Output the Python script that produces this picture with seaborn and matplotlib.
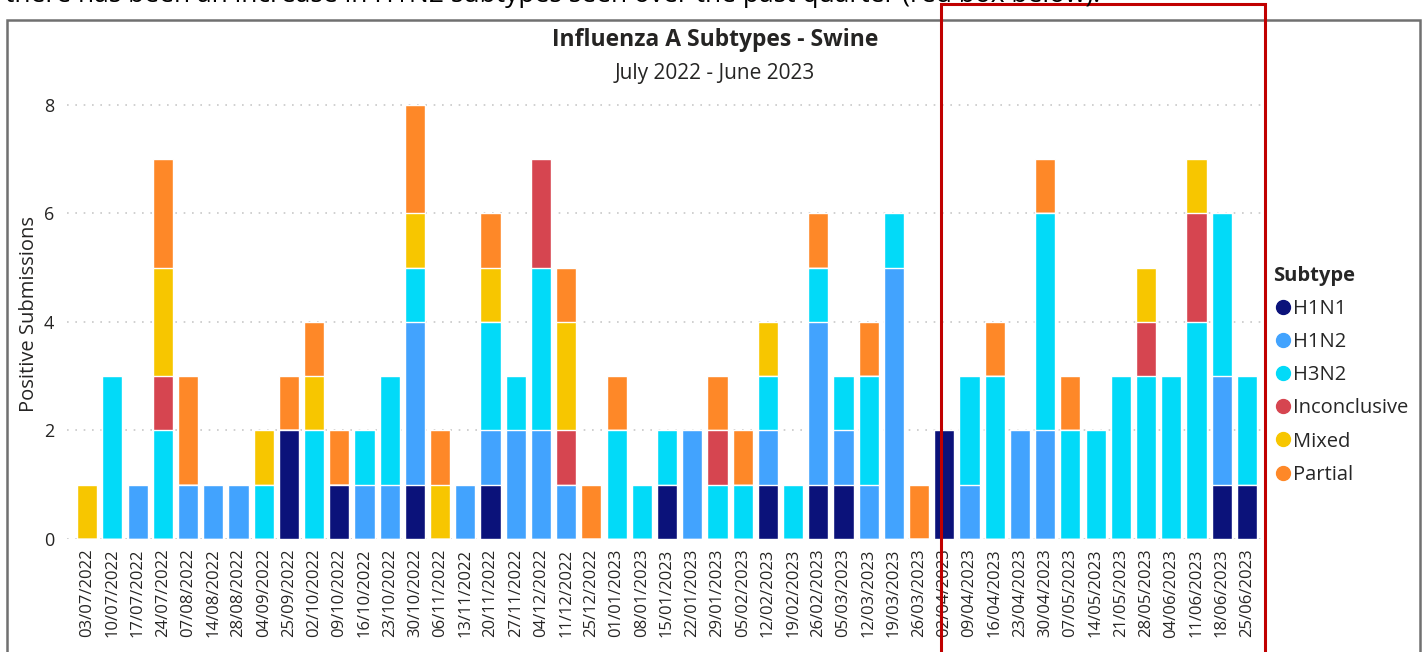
import matplotlib
matplotlib.use("Agg")
import matplotlib.pyplot as plt
from matplotlib.lines import Line2D
from matplotlib.patches import Rectangle
import numpy as np
import seaborn as sns

# ── data ──────────────────────────────────────────────────────────────────────
weeks = [
    "03/07/2022", "10/07/2022", "17/07/2022", "24/07/2022", "07/08/2022",
    "14/08/2022", "28/08/2022", "04/09/2022", "25/09/2022", "02/10/2022",
    "09/10/2022", "16/10/2022", "23/10/2022", "30/10/2022", "06/11/2022",
    "13/11/2022", "20/11/2022", "27/11/2022", "04/12/2022", "11/12/2022",
    "25/12/2022", "01/01/2023", "08/01/2023", "15/01/2023", "22/01/2023",
    "29/01/2023", "05/02/2023", "12/02/2023", "19/02/2023", "26/02/2023",
    "05/03/2023", "12/03/2023", "19/03/2023", "26/03/2023", "02/04/2023",
    "09/04/2023", "16/04/2023", "23/04/2023", "30/04/2023", "07/05/2023",
    "14/05/2023", "21/05/2023", "28/05/2023", "04/06/2023", "11/06/2023",
    "18/06/2023", "25/06/2023",
]
h1n1 = [0, 0, 0, 0, 0, 0, 0, 0, 2, 0, 1, 0, 0, 1, 0, 0, 1, 0, 0, 0, 0, 0, 0, 1,
        0, 0, 0, 1, 0, 1, 1, 0, 0, 0, 2, 0, 0, 0, 0, 0, 0, 0, 0, 0, 0, 1, 1]
h1n2 = [0, 0, 1, 0, 1, 1, 1, 0, 0, 0, 0, 1, 1, 3, 0, 1, 1, 2, 2, 1, 0, 0, 0, 0,
        2, 0, 0, 1, 0, 3, 1, 1, 5, 0, 0, 1, 0, 2, 2, 0, 0, 0, 0, 0, 0, 2, 0]
h3n2 = [0, 3, 0, 2, 0, 0, 0, 1, 0, 2, 0, 1, 2, 1, 0, 0, 2, 1, 3, 0, 0, 2, 1, 1,
        0, 1, 1, 1, 1, 1, 1, 2, 1, 0, 0, 2, 3, 0, 4, 2, 2, 3, 3, 3, 4, 3, 2]
inconclusive = [0, 0, 0, 1, 0, 0, 0, 0, 0, 0, 0, 0, 0, 0, 0, 0, 0, 0, 2, 1, 0, 0, 0, 0,
                0, 1, 0, 0, 0, 0, 0, 0, 0, 0, 0, 0, 0, 0, 0, 0, 0, 0, 1, 0, 2, 0, 0]
mixed = [1, 0, 0, 2, 0, 0, 0, 1, 0, 1, 0, 0, 0, 1, 1, 0, 1, 0, 0, 2, 0, 0, 0, 0,
         0, 0, 0, 1, 0, 0, 0, 0, 0, 0, 0, 0, 0, 0, 0, 0, 0, 0, 1, 0, 1, 0, 0]
partial = [0, 0, 0, 2, 2, 0, 0, 0, 1, 1, 1, 0, 0, 2, 1, 0, 1, 0, 0, 1, 1, 1, 0, 0,
           0, 1, 1, 0, 0, 1, 0, 1, 0, 1, 0, 0, 1, 0, 1, 1, 0, 0, 0, 0, 0, 0, 0]

subtypes = ["H1N1", "H1N2", "H3N2", "Inconclusive", "Mixed", "Partial"]
colors = ["#0B127A", "#42A3FE", "#02DAF8", "#D64550", "#F7C600", "#FE8828"]
layers = [h1n1, h1n2, h3n2, inconclusive, mixed, partial]

# ── style ─────────────────────────────────────────────────────────────────────
sns.set_theme(style="white")
plt.rcParams["font.family"] = ["Open Sans", "DejaVu Sans"]

W, H = 1428, 652
fig = plt.figure(figsize=(W / 100, H / 100), dpi=100)
ax = fig.add_axes([67 / W, 1 - 539 / H, (1262 - 67) / W, (539 - 88.7) / H])

# stacked bars: draw cumulative totals from the top layer down
cum = np.cumsum(np.array(layers), axis=0)
for i in range(len(subtypes) - 1, -1, -1):
    sns.barplot(x=weeks, y=cum[i], order=weeks, color=colors[i], saturation=1,
                width=0.8, edgecolor="white", linewidth=1, ax=ax, zorder=2)

ax.set_xlim(-0.8, 46.6)
ax.set_ylim(0, 8.3)
ax.set_yticks([0, 2, 4, 6, 8])
ax.yaxis.grid(True, linestyle=(0, (1, 4)), color="#C8C8C8", linewidth=1.2)
ax.set_axisbelow(True)
for s in ax.spines.values():
    s.set_visible(False)
ax.tick_params(axis="x", labelrotation=90, labelsize=12, colors="#252423", pad=7, length=0)
ax.tick_params(axis="y", labelsize=13, colors="#252423", pad=9, length=0)
ax.set_xlabel("")
ax.set_ylabel("Positive Submissions", fontsize=14.5, color="#252423", labelpad=4)

fig.text(715 / W, 1 - 40 / H, "Influenza A Subtypes - Swine", ha="center", va="center",
         fontsize=16.5, fontweight="bold", color="#252423")
fig.text(715 / W, 1 - 73 / H, "July 2022 - June 2023", ha="center", va="center",
         fontsize=15, color="#252423")

handles = [Line2D([], [], marker="o", linestyle="", markersize=10, color=c)
           for c in colors]
leg = fig.legend(handles, subtypes, title="Subtype", loc="upper left",
                 bbox_to_anchor=(1263 / W, 1 - 256 / H), frameon=False,
                 fontsize=14.5, title_fontproperties={"weight": "bold", "size": 14.5},
                 handletextpad=0.0, handlelength=1.0, labelspacing=0.65,
                 alignment="left", borderpad=0)

# clipped caption line from the page above the chart
fig.text(5 / W, 1 - 1.5 / H,
         "there has been an increase in H1N2 subtypes seen over the past quarter (red box below).",
         ha="left", va="baseline", fontsize=19, color="black")

# page frame around the visual and red highlight box
fig.add_artist(Rectangle((7 / W, -0.05), (1420 - 7) / W, 1 - 20 / H + 0.05,
                         transform=fig.transFigure, fill=False,
                         edgecolor="#707070", linewidth=1.8))
fig.add_artist(Rectangle((941 / W, -0.05), (1265 - 941) / W, 1 - 3.5 / H + 0.05,
                         transform=fig.transFigure, fill=False,
                         edgecolor="#C00000", linewidth=2.2))

fig.savefig("out.png", dpi=100)
